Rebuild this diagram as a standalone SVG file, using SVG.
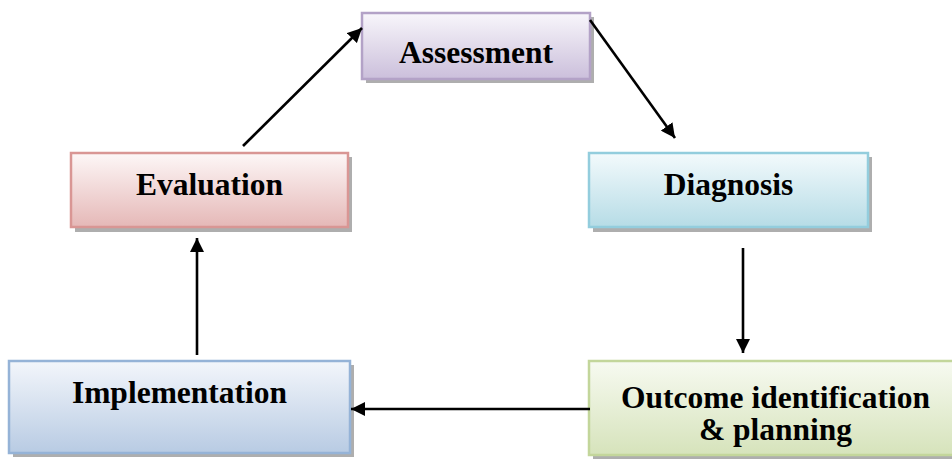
<svg xmlns="http://www.w3.org/2000/svg" width="952" height="464" viewBox="0 0 952 464">
<defs>
<linearGradient id="gP" x1="0" y1="0" x2="0" y2="1"><stop offset="0" stop-color="#f8f6fb"/><stop offset="1" stop-color="#cbbfdb"/></linearGradient>
<linearGradient id="gR" x1="0" y1="0" x2="0" y2="1"><stop offset="0" stop-color="#fdf7f7"/><stop offset="1" stop-color="#e5b8b7"/></linearGradient>
<linearGradient id="gC" x1="0" y1="0" x2="0" y2="1"><stop offset="0" stop-color="#f3fafc"/><stop offset="1" stop-color="#b6dce6"/></linearGradient>
<linearGradient id="gB" x1="0" y1="0" x2="0" y2="1"><stop offset="0" stop-color="#f3f6fb"/><stop offset="1" stop-color="#b8cbe3"/></linearGradient>
<linearGradient id="gG" x1="0" y1="0" x2="0" y2="1"><stop offset="0" stop-color="#f7faf1"/><stop offset="1" stop-color="#d6e3bb"/></linearGradient>
<marker id="ah" viewBox="0 0 10 10" refX="10" refY="5" markerWidth="5.5" markerHeight="5.5" markerUnits="strokeWidth" orient="auto">
<path d="M0,0 L10,5 L0,10 z" fill="#000"/>
</marker>
</defs>
<style>
.shadow{fill:#8c8c8c;opacity:0.7}
.box{stroke-width:2.5}
.lbl{font-family:'Liberation Serif','Times New Roman',Times,'Nimbus Roman','DejaVu Serif',serif;font-weight:bold;font-size:31.5px;fill:#000;text-anchor:middle}
.conn{stroke:#000;stroke-width:2.6;fill:none;marker-end:url(#ah)}
</style>
<rect width="952" height="464" fill="#fff"/>
<g id="assessment">
<rect class="shadow" x="366" y="17" width="228" height="66" fill="#9b91a8"/>
<rect class="box" x="362" y="13" width="228" height="66" fill="url(#gP)" stroke="#b3a2c7"/>
<text class="lbl" x="476" y="63" font-family="Liberation Serif, serif">Assessment</text>
</g>
<g id="evaluation">
<rect class="shadow" x="75" y="157" width="277" height="75"/>
<rect class="box" x="71" y="153" width="277" height="74" fill="url(#gR)" stroke="#d99694"/>
<text class="lbl" x="209.5" y="195" font-family="Liberation Serif, serif">Evaluation</text>
</g>
<g id="diagnosis">
<rect class="shadow" x="593" y="157" width="279" height="75"/>
<rect class="box" x="589" y="153" width="279" height="74" fill="url(#gC)" stroke="#93cddd"/>
<text class="lbl" x="728.5" y="195" font-family="Liberation Serif, serif">Diagnosis</text>
</g>
<g id="implementation">
<rect class="shadow" x="13" y="365" width="341" height="92"/>
<rect class="box" x="9" y="361" width="341" height="92" fill="url(#gB)" stroke="#95b3d7"/>
<text class="lbl" x="179.5" y="403" font-family="Liberation Serif, serif">Implementation</text>
</g>
<g id="outcome">
<rect class="shadow" x="593" y="365" width="375" height="94"/>
<rect class="box" x="589" y="361" width="375" height="94" fill="url(#gG)" stroke="#c3d69b"/>
<text class="lbl" x="775.5" y="408" font-family="Liberation Serif, serif">Outcome identification</text>
<text class="lbl" x="775.5" y="440" font-family="Liberation Serif, serif">&amp; planning</text>
</g>
<g id="connectors">
<line class="conn" x1="243" y1="146" x2="362" y2="28"/>
<line class="conn" x1="590" y1="20" x2="675" y2="138"/>
<line class="conn" x1="743" y1="248" x2="743" y2="353"/>
<line class="conn" x1="590" y1="409" x2="351" y2="409"/>
<line class="conn" x1="197" y1="355" x2="197" y2="238"/>
</g>
</svg>
